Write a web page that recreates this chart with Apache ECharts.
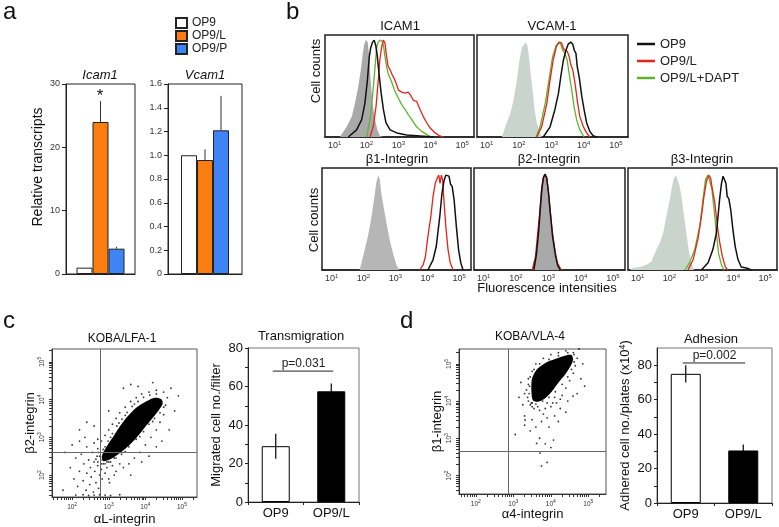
<!DOCTYPE html>
<html>
<head>
<meta charset="utf-8">
<title>OP9 adhesion molecules</title>
<script src="https://cdn.jsdelivr.net/npm/echarts@6/dist/echarts.min.js"></script>
<style>
  html, body { margin: 0; padding: 0; background: #fff; }
  #chart { width: 779px; height: 527px; }
</style>
</head>
<body>
<div id="chart"></div>
<script>
var FONT = 'Liberation Sans, Arial, sans-serif';

// a: relative transcripts
var aGroups = ['OP9', 'OP9/L', 'OP9/P'];
var aColors = ['#ffffff', '#fb7c0f', '#3f84f4'];
var icamMean = [1.0, 24.0, 4.0];
var icamErr = [0, 3.3, 0.3];
var vcamMean = [1.0, 0.96, 1.21];
var vcamErr = [0, 0.09, 0.29];

// b: histograms, x = log10(fluorescence), y = % of peak
var bGroups = ['OP9 ', 'OP9/L ', 'OP9/L+DAPT'];
var bColors = ['#111111', '#e5231b', '#5db52f'];
var decades = [1, 2, 3, 4, 5];

var icamIso = [[1.17,0],[1.38,10],[1.54,20],[1.64,33],[1.74,49],[1.82,65],[1.88,81],[1.93,91],[1.98,95],[2.04,93],[2.08,81],[2.13,56],[2.19,33],[2.27,17],[2.34,7],[2.42,1],[2.53,0]];
var icamOP9 = [[1.43,0],[1.69,7],[1.85,17],[1.95,33],[2.03,56],[2.09,79],[2.13,87],[2.19,93],[2.24,95],[2.29,90],[2.34,79],[2.39,63],[2.46,43],[2.53,27],[2.61,14],[2.74,7],[2.95,4],[3.26,2],[3.68,1],[4.1,0]];
var icamOP9L = [[2.11,0],[2.21,10],[2.3,30],[2.37,56],[2.42,76],[2.48,89],[2.53,95],[2.58,92],[2.63,79],[2.68,69],[2.74,66],[2.79,62],[2.86,58],[2.95,51],[3.0,46],[3.1,44],[3.21,43],[3.31,44],[3.38,41],[3.47,36],[3.57,35],[3.68,27],[3.78,20],[3.89,14],[3.99,9],[4.15,4],[4.3,1],[4.41,0]];
var icamDAPT = [[2.01,0],[2.11,17],[2.19,40],[2.27,69],[2.32,88],[2.37,93],[2.42,95],[2.49,94],[2.53,90],[2.58,79],[2.63,69],[2.68,62],[2.79,54],[2.89,45],[3.0,38],[3.1,32],[3.21,27],[3.31,22],[3.42,17],[3.57,10],[3.73,5.5],[3.89,2.3],[4.04,0]];

var vcamIso = [[1.47,0],[1.62,14],[1.73,23],[1.83,36],[1.93,55],[2.01,75],[2.09,88],[2.16,91],[2.22,93],[2.27,88],[2.32,75],[2.37,59],[2.43,43],[2.48,27],[2.55,14],[2.63,5.5],[2.7,0]];
var vcamOP9 = [[2.75,0],[2.96,10],[3.11,27],[3.22,43],[3.29,59],[3.37,75],[3.45,85],[3.52,91],[3.6,93],[3.66,91],[3.71,85],[3.76,82],[3.8,69],[3.86,59],[3.94,40],[4.01,27],[4.09,14],[4.19,5.5],[4.29,1.3],[4.4,0]];
var vcamOP9L = [[2.55,0],[2.7,10],[2.86,33],[2.96,56],[3.06,76],[3.16,89],[3.25,93],[3.32,92],[3.37,87],[3.42,85],[3.49,84],[3.55,79],[3.6,71],[3.66,66],[3.73,53],[3.8,36],[3.88,20],[3.99,10],[4.09,4],[4.19,0]];
var vcamDAPT = [[2.53,0],[2.65,10],[2.81,33],[2.94,59],[3.04,79],[3.14,89],[3.23,93],[3.29,91],[3.35,85],[3.42,82],[3.49,75],[3.55,62],[3.63,46],[3.7,30],[3.78,17],[3.88,7],[4.01,0]];

var b1Iso = [[1.88,0],[2.04,20],[2.14,33],[2.25,52],[2.33,69],[2.4,85],[2.46,93],[2.51,89],[2.56,75],[2.63,62],[2.72,46],[2.82,30],[2.93,16],[3.03,5],[3.13,0]];
var b1OP9 = [[4.02,0],[4.18,10],[4.28,23],[4.39,52],[4.46,75],[4.52,87],[4.58,93],[4.63,94],[4.68,92],[4.73,84],[4.78,82],[4.84,69],[4.91,43],[4.98,20],[5.05,7],[5.12,0]];
var b1OP9L = [[3.76,0],[3.87,5],[3.94,13],[4.02,33],[4.11,52],[4.18,72],[4.25,85],[4.31,90],[4.36,93],[4.4,85],[4.44,93],[4.48,89],[4.52,69],[4.58,43],[4.65,20],[4.72,7],[4.81,0]];

var b2Iso = [[2.5,0],[2.6,13],[2.67,36],[2.74,59],[2.79,79],[2.84,90],[2.89,93],[2.95,90],[3.0,75],[3.05,56],[3.12,33],[3.21,13],[3.28,3],[3.35,0]];
var b2OP9 = [[2.55,0],[2.63,15],[2.7,38],[2.75,60],[2.8,80],[2.85,91],[2.9,94],[2.95,90],[3.01,74],[3.06,56],[3.13,33],[3.22,14],[3.29,4],[3.37,0]];
var b2OP9L = [[2.5,0],[2.6,13],[2.67,36],[2.74,59],[2.79,79],[2.84,90],[2.89,93],[2.95,90],[3.0,77],[3.05,60],[3.12,38],[3.21,18],[3.28,7],[3.38,1],[3.43,0]];

var b3Iso = [[0.75,0],[0.86,2],[1.07,3],[1.27,5],[1.43,8],[1.59,20],[1.69,26],[1.8,36],[1.9,52],[2.01,69],[2.08,82],[2.14,90],[2.21,93],[2.27,92],[2.32,82],[2.39,69],[2.46,52],[2.53,36],[2.6,20],[2.68,7],[2.77,0]];
var b3OP9 = [[3.0,0],[3.21,7],[3.36,20],[3.47,36],[3.52,52],[3.57,69],[3.63,85],[3.68,92],[3.73,93],[3.77,85],[3.81,72],[3.86,70],[3.92,59],[3.99,39],[4.06,23],[4.15,10],[4.25,3],[4.41,2],[4.57,0]];
var b3OP9L = [[2.58,0],[2.74,10],[2.89,30],[3.0,52],[3.08,72],[3.16,87],[3.23,93],[3.29,90],[3.33,82],[3.37,75],[3.42,66],[3.47,52],[3.52,39],[3.58,26],[3.66,13],[3.75,3],[3.83,0]];
var b3DAPT = [[2.48,0],[2.63,7],[2.79,20],[2.95,43],[3.05,69],[3.13,89],[3.21,93],[3.27,92],[3.33,79],[3.4,59],[3.47,36],[3.54,16],[3.63,5],[3.71,0]];

// c, d: dot plots in log10 units; dense core outlined, sparse events listed
var facsDecades = [2, 3, 4, 5];
var cGate = [2.76, 2.6];
var cCore = [[2.81,2.5],[2.95,2.77],[3.13,3.03],[3.31,3.3],[3.53,3.57],[3.76,3.79],[4.04,3.96],[4.26,4.05],[4.44,4.01],[4.47,3.88],[4.35,3.7],[4.17,3.48],[3.94,3.21],[3.72,2.95],[3.49,2.73],[3.26,2.55],[3.04,2.42],[2.85,2.37]];
var cDots = [[1.95,2.2],[2.05,1.9],[2.1,2.45],[2.15,1.7],[2.2,2.1],[2.25,2.55],[2.3,1.85],[2.32,2.3],[2.38,1.6],[2.4,2.05],[2.45,2.4],[2.48,1.75],[2.5,2.2],[2.52,1.95],[2.55,2.6],[2.58,1.55],[2.6,2.35],[2.62,2.1],[2.65,1.8],[2.68,2.5],[2.7,2.25],[2.72,1.65],[2.75,2.0],[2.78,2.4],[2.8,2.15],[2.82,1.9],[2.85,2.3],[2.88,2.55],[2.9,2.05],[2.92,2.45],[2.95,2.2],[2.98,2.6],[3.0,2.35],[3.02,1.8],[3.05,2.5],[3.1,2.25],[3.12,2.65],[3.15,2.0],[3.2,2.45],[3.25,2.7],[3.3,2.3],[3.35,2.55],[1.8,2.6],[1.75,1.6],[2.0,2.8],[2.2,2.9],[2.4,2.75],[2.6,2.85],[2.35,3.0],[2.7,2.95],
  [2.1,1.47],[2.3,1.48],[2.45,1.46],[2.6,1.47],[2.75,1.48],[2.9,1.47],[3.05,1.46],[3.3,1.48],
  [2.7,2.7],[2.8,2.9],[2.9,3.05],[3.0,3.2],[3.1,3.35],[3.2,3.5],[3.3,3.65],[3.45,3.8],[3.6,3.95],[3.75,4.05],[3.9,4.15],[4.1,4.2],[4.3,4.25],[4.5,4.2],[4.6,4.05],[4.55,3.85],[4.5,3.6],[4.4,3.4],[4.3,3.2],[4.15,3.0],[4.0,2.8],[3.85,2.6],[3.7,2.45],[3.55,2.3],[3.4,2.2],[3.2,2.1],
  [3.4,4.3],[3.0,3.7],[2.6,3.3],[4.7,4.3],[4.8,3.7],[4.65,3.2],[4.3,2.75],[3.9,2.35],[4.9,4.1],[3.6,4.4],[2.4,3.4],[4.1,2.5],[3.6,2.0],[3.0,1.9],[4.45,2.9],[3.8,4.35],[4.2,4.45],[2.2,3.2],
  [2.85,2.68],[2.98,2.9],[3.1,3.1],[3.22,3.3],[3.36,3.48],[3.5,3.66],[3.64,3.82],[3.8,3.95],[3.95,4.06],[4.12,4.12],[4.3,4.15],[2.9,2.75],[3.05,3.0],[3.28,3.38],[3.45,3.58],[3.7,3.88],
  [2.95,2.35],[3.15,2.45],[3.35,2.6],[3.55,2.75],[3.75,2.95],[3.95,3.15],[4.1,3.35],[4.25,3.5],[4.4,3.65],[4.5,3.8],[3.05,2.35],[3.45,2.62],[3.85,3.02],[4.2,3.42],
  [2.7,2.35],[2.75,2.5],[2.65,2.42],[2.72,2.6],[2.8,2.3],[2.9,2.3]];

var dGate = [2.85, 2.66];
var dCore = [[3.49,4.12],[3.49,4.57],[3.62,4.84],[3.84,5.02],[4.11,5.13],[4.37,5.22],[4.55,5.24],[4.59,5.11],[4.52,4.93],[4.37,4.7],[4.19,4.48],[4.02,4.25],[3.84,4.07],[3.66,3.98],[3.53,4.01]];
var dDots = [[3.4,4.0],[3.35,4.3],[3.4,4.6],[3.5,4.8],[3.6,5.0],[3.8,5.15],[4.0,5.25],[4.2,5.3],[4.4,5.35],[4.6,5.3],[4.7,5.15],[4.65,4.95],[4.6,4.75],[4.5,4.55],[4.4,4.35],[4.3,4.15],[4.15,3.95],[4.0,3.85],[3.85,3.8],[3.7,3.75],[3.55,3.8],[3.45,3.9],
  [3.3,4.2],[3.25,3.9],[3.3,3.6],[3.5,3.5],[3.6,3.3],[3.75,3.45],[3.9,3.55],[4.1,3.6],[4.25,3.8],[4.45,4.0],[4.7,4.2],[4.8,4.6],[4.85,5.0],[4.75,5.4],[4.55,5.42],[3.95,3.3],[3.45,3.2],[3.3,3.35],[3.2,4.5],[3.15,4.1],[4.4,3.7],[3.7,3.0],[3.85,2.85],[4.0,2.75],[3.9,2.35],[3.05,3.1],[4.9,4.4],[3.6,4.1],[4.2,3.45],[3.5,3.95],[3.8,3.65],[4.05,3.95],[4.25,4.05],
  [3.31,3.49],[3.62,2.86],[4.07,2.95],[3.75,2.25],[3.71,2.6],[4.59,4.13],
  [3.42,4.2],[3.43,4.4],[3.45,4.65],[3.55,4.85],[3.7,5.0],[3.95,5.12],[4.2,5.22],[4.45,5.3],[4.62,5.25],[4.62,5.05],[4.55,4.85],[4.45,4.65],[4.3,4.45],[4.12,4.25],[3.95,4.1],[3.78,4.0],[3.6,3.92],[3.48,3.95],
  [3.38,4.1],[3.4,4.45],[3.5,3.85],[3.65,3.85],[3.9,3.95],[4.1,4.1]];

// c, d: bar charts
var barCats = ['OP9', 'OP9/L'];
var barFills = ['#ffffff', '#000000'];
var migMean = [29, 57.5];
var migErr = [6.5, 4];
var migP = ['p=0.031', 68];
var migTicks = [0, 20, 40, 60, 80];
var adhMean = [75, 30.5];
var adhErr = [5, 3.5];
var adhP = ['p=0.002', 81.3];
var adhTicks = [0, 20, 40, 60, 80];

function logTicks(lo, hi) {
    var out = [];
    for (var n = 1; n <= 5; n++) {
        for (var k = 1; k <= 9; k++) {
            var v = n + Math.log10(k);
            if (v >= lo && v <= hi) out.push(v);
        }
    }
    return out;
}

function powLabel(size, supSize) {
    return {
        formatter: function (v) { return '{b|10}{s|' + Math.round(v) + '}'; },
        rich: {
            b: { fontSize: size, color: '#333', lineHeight: size + 3, fontFamily: FONT },
            s: { fontSize: supSize, color: '#333', lineHeight: supSize, verticalAlign: 'top', fontFamily: FONT }
        }
    };
}

var grids = [
    { left: 66, top: 84, width: 69, height: 190, borderColor: '#222', borderWidth: 1 },   // 0 Icam1
    { left: 168, top: 84, width: 74, height: 190, borderColor: '#222', borderWidth: 1 },  // 1 Vcam1
    { left: 325, top: 35, width: 149, height: 102, borderColor: '#222', borderWidth: 1.5 }, // 2 ICAM1
    { left: 477, top: 35, width: 151, height: 102, borderColor: '#222', borderWidth: 1.5 }, // 3 VCAM-1
    { left: 322, top: 168, width: 149, height: 102, borderColor: '#222', borderWidth: 1.5 }, // 4 b1
    { left: 474, top: 168, width: 151, height: 102, borderColor: '#222', borderWidth: 1.5 }, // 5 b2
    { left: 628, top: 168, width: 149, height: 102, borderColor: '#222', borderWidth: 1.5 }, // 6 b3
    { left: 52, top: 349, width: 145, height: 148, borderColor: '#555', borderWidth: 1 },  // 7 c dots
    { left: 248, top: 348, width: 111, height: 154, borderColor: '#777', borderWidth: 1 }, // 8 c bars
    { left: 459, top: 349, width: 147, height: 145, borderColor: '#555', borderWidth: 1 }, // 9 d dots
    { left: 657, top: 348, width: 115, height: 155, borderColor: '#777', borderWidth: 1 }  // 10 d bars
];
grids.forEach(function (g) { g.show = true; g.containLabel = false; });

var xAxes = [], yAxes = [], series = [];

// ---- a ----
[[icamMean, icamErr, 'Icam1'], [vcamMean, vcamErr, 'Vcam1']].forEach(function (set, gi) {
    xAxes.push({
        gridIndex: gi, type: 'category', data: [set[2]],
        axisLine: { lineStyle: { color: '#222' } },
        axisTick: { show: false }, axisLabel: { show: false }
    });
    var y = {
        gridIndex: gi, type: 'value', min: 0, splitLine: { show: false },
        axisLine: { show: true, lineStyle: { color: '#222' } },
        axisTick: { show: true, length: 4, lineStyle: { color: '#222' } },
        axisLabel: { fontSize: 9, color: '#333', margin: 6 }
    };
    if (gi === 0) { y.max = 30; y.interval = 10; }
    else {
        y.max = 1.6; y.interval = 0.2;
        y.axisLabel.formatter = function (v) { return v === 0 ? '0' : v.toFixed(1); };
    }
    yAxes.push(y);
    aGroups.forEach(function (name, i) {
        series.push({
            type: 'bar', name: name, xAxisIndex: gi, yAxisIndex: gi,
            data: [set[0][i]], barWidth: 16, barGap: '0%',
            itemStyle: { color: aColors[i], borderColor: '#222', borderWidth: 1 }
        });
    });
    series.push({
        type: 'custom', xAxisIndex: gi, yAxisIndex: gi, z: 5,
        encode: { x: 0, y: [1, 2] },
        data: set[0].map(function (m, i) { return [0, m, m + set[1][i], i]; })
            .filter(function (d) { return d[2] > d[1]; }),
        renderItem: function (params, api) {
            var p0 = api.coord([0, api.value(1)]);
            var p1 = api.coord([0, api.value(2)]);
            var dx = (api.value(3) - 1) * 16;
            return {
                type: 'line',
                shape: { x1: p0[0] + dx, y1: p0[1], x2: p1[0] + dx, y2: p1[1] },
                style: { stroke: '#333', lineWidth: 1 }
            };
        }
    });
});

// ---- b ----
var histPanels = [
    { iso: icamIso, isoColor: '#a9a9a9', lines: [icamDAPT, icamOP9L, icamOP9] },
    { iso: vcamIso, isoColor: '#c9d4cd', lines: [vcamDAPT, vcamOP9L, vcamOP9] },
    { iso: b1Iso, isoColor: '#b6b6b6', lines: [null, b1OP9L, b1OP9] },
    { iso: b2Iso, isoColor: '#a9a9a9', lines: [null, b2OP9L, b2OP9] },
    { iso: b3Iso, isoColor: '#c9d4cd', lines: [b3DAPT, b3OP9L, b3OP9] }
];
histPanels.forEach(function (p, k) {
    var gi = 2 + k;
    var lab = powLabel(9, 6);
    lab.customValues = decades;
    lab.margin = 3;
    xAxes.push({
        gridIndex: gi, type: 'value', min: 0.7, max: 5.37, splitLine: { show: false },
        axisLine: { show: true, lineStyle: { color: '#222', width: 1.5 } },
        axisTick: { show: false }, axisLabel: lab
    });
    yAxes.push({ gridIndex: gi, type: 'value', min: 0, max: 100, show: false, splitLine: { show: false } });
    series.push({
        type: 'line', name: 'isotype', xAxisIndex: gi, yAxisIndex: gi, data: p.iso,
        symbol: 'none', lineStyle: { width: 0 }, itemStyle: { color: p.isoColor },
        areaStyle: { color: p.isoColor, opacity: 1 }, z: 1
    });
    // draw order: DAPT, OP9/L, OP9 on top
    [2, 1, 0].forEach(function (gIdx, j) {
        var d = p.lines[j];
        if (!d) return;
        series.push({
            type: 'line', name: bGroups[gIdx], xAxisIndex: gi, yAxisIndex: gi, data: d,
            symbol: 'none', itemStyle: { color: bColors[gIdx] },
            lineStyle: { color: bColors[gIdx], width: gIdx === 0 ? 1.5 : 1.3 }, z: 2 + j
        });
    });
});

// ---- c, d dot plots ----
function facsAxis(gi, lo, hi, name, gap, vertical) {
    var lab = powLabel(6.5, 5);
    lab.customValues = facsDecades;
    lab.margin = 5;
    lab.rotate = vertical ? 90 : 0;
    return {
        gridIndex: gi, type: 'value', min: lo, max: hi,
        name: name, nameLocation: 'middle', nameGap: gap,
        nameTextStyle: { fontSize: 13, color: '#111' },
        splitLine: { show: false },
        axisLine: { show: true, lineStyle: { color: '#333' } },
        axisTick: { show: true, customValues: logTicks(lo, hi), length: 3, lineStyle: { color: '#333' } },
        axisLabel: lab
    };
}
function dotSeries(gi, core, dots, gate) {
    series.push({
        type: 'custom', name: 'core', xAxisIndex: gi, yAxisIndex: gi, data: core, z: 3,
        renderItem: function (params, api) {
            if (params.dataIndex !== 0) return;
            var pts = core.map(function (c) { return api.coord(c); });
            return { type: 'polygon', shape: { points: pts, smooth: 0.3 }, style: { fill: '#000' } };
        }
    });
    series.push({
        type: 'scatter', name: 'events', xAxisIndex: gi, yAxisIndex: gi, data: dots,
        symbolSize: 1.8, itemStyle: { color: '#000' }, z: 4,
        markLine: {
            silent: true, symbol: 'none', label: { show: false },
            lineStyle: { color: '#666', type: 'solid', width: 1 },
            data: [{ xAxis: gate[0] }, { yAxis: gate[1] }]
        }
    });
}
xAxes[7] = facsAxis(7, 1.45, 5.41, 'αL-integrin', 16, false);
yAxes[7] = facsAxis(7, 1.42, 5.34, 'β2-integrin', 13, true);
dotSeries(7, cCore, cDots, cGate);

// ---- c, d bar charts ----
function barAxes(gi, max, ticks, name, gap, rich) {
    xAxes[gi] = {
        gridIndex: gi, type: 'category', data: barCats,
        axisLine: { lineStyle: { color: '#222' } },
        axisTick: { show: true, length: 3, lineStyle: { color: '#222' } },
        axisLabel: { fontSize: 13, color: '#111', margin: 5 }
    };
    var minor = [];
    for (var v = 0; v <= ticks[ticks.length - 1]; v += 10) minor.push(v);
    yAxes[gi] = {
        gridIndex: gi, type: 'value', min: 0, max: max,
        name: name, nameLocation: 'middle', nameGap: gap,
        nameTextStyle: { fontSize: 13, color: '#111', lineHeight: 16, rich: rich },
        splitLine: { show: false },
        axisLine: { show: true, lineStyle: { color: '#222' } },
        axisTick: { show: true, customValues: minor, length: 3, lineStyle: { color: '#222' } },
        axisLabel: { customValues: ticks, fontSize: 13, color: '#111', margin: 5 }
    };
}
function barSeries(gi, mean, err, width, pLab) {
    series.push({
        type: 'bar', name: 'bars' + gi, xAxisIndex: gi, yAxisIndex: gi, barWidth: width,
        data: mean.map(function (m, i) {
            return { value: m, itemStyle: { color: barFills[i], borderColor: '#000', borderWidth: 1 } };
        })
    });
    series.push({
        type: 'custom', xAxisIndex: gi, yAxisIndex: gi, z: 5, encode: { x: 0, y: [1, 2] },
        data: mean.map(function (m, i) { return [i, m - err[i], m + err[i]]; }),
        renderItem: function (params, api) {
            var p0 = api.coord([api.value(0), api.value(1)]);
            var p1 = api.coord([api.value(0), api.value(2)]);
            return {
                type: 'line', shape: { x1: p0[0], y1: p0[1], x2: p1[0], y2: p1[1] },
                style: { stroke: '#000', lineWidth: 1.2 }
            };
        }
    });
    series.push({
        type: 'custom', xAxisIndex: gi, yAxisIndex: gi, z: 5, encode: { x: [0, 1], y: 2 },
        data: [[0, 1, pLab[1]]],
        renderItem: function (params, api) {
            var a = api.coord([0, api.value(2)]);
            var b = api.coord([1, api.value(2)]);
            return {
                type: 'group', children: [
                    { type: 'line', shape: { x1: a[0] - 3, y1: a[1], x2: b[0] + 2, y2: b[1] },
                      style: { stroke: '#222', lineWidth: 1 } },
                    { type: 'text', x: (a[0] + b[0]) / 2, y: a[1] - 1,
                      style: { text: pLab[0], fontSize: 12, fontFamily: FONT, fill: '#222',
                               align: 'center', verticalAlign: 'bottom',
                               textAlign: 'center', textVerticalAlign: 'bottom' } }
                ]
            };
        }
    });
}
barAxes(8, 80, migTicks, 'Migrated cell no./filter', 22, null);
barSeries(8, migMean, migErr, 28, migP);

xAxes[9] = facsAxis(9, 1.55, 5.47, 'α4-integrin', 10, false);
yAxes[9] = facsAxis(9, 1.5, 5.4, 'β1-integrin', 15, true);
dotSeries(9, dCore, dDots, dGate);

barAxes(10, 90, adhTicks, 'Adhered cell no./plates (x10{s|4})', 20,
    { s: { fontSize: 9, lineHeight: 16, verticalAlign: 'top', color: '#111', fontFamily: FONT } });
barSeries(10, adhMean, adhErr, 30, adhP);

// ---- free text ----
function txt(x, y, text, size, extra) {
    var el = {
        type: 'text', x: x, y: y, silent: true,
        style: { text: text, fontSize: size, fontFamily: FONT, fill: '#111',
                 align: 'center', verticalAlign: 'middle',
                 textAlign: 'center', textVerticalAlign: 'middle' }
    };
    if (extra) {
        if (extra.rotation) el.rotation = extra.rotation;
        if (extra.italic) el.style.fontStyle = 'italic';
        if (extra.left) { el.style.align = 'left'; el.style.textAlign = 'left'; }
    }
    return el;
}
var texts = [
    txt(3, 12, 'a', 24, { left: true }),
    txt(286, 12, 'b', 24, { left: true }),
    txt(3, 321, 'c', 24, { left: true }),
    txt(400, 321, 'd', 24, { left: true }),
    txt(100, 75, 'Icam1', 13, { italic: true }),
    txt(205, 75, 'Vcam1', 13, { italic: true }),
    txt(100, 96, '*', 17),
    txt(38, 167, 'Relative transcripts', 14, { rotation: Math.PI / 2 }),
    txt(400, 26, 'ICAM1', 13),
    txt(552, 26, 'VCAM-1', 13),
    txt(397, 159, 'β1-Integrin', 13),
    txt(549, 159, 'β2-Integrin', 13),
    txt(702, 159, 'β3-Integrin', 13),
    txt(316, 71, 'Cell counts', 13, { rotation: Math.PI / 2 }),
    txt(314, 220, 'Cell counts', 13, { rotation: Math.PI / 2 }),
    txt(547, 288, 'Fluorescence intensities', 13),
    txt(122, 339, 'KOBA/LFA-1', 12),
    txt(530, 337, 'KOBA/VLA-4', 12),
    txt(301, 336, 'Transmigration', 13),
    txt(711, 339, 'Adhesion', 13)
];

var option = {
    animation: false,
    backgroundColor: '#fff',
    textStyle: { fontFamily: FONT },
    grid: grids,
    xAxis: xAxes,
    yAxis: yAxes,
    legend: [
        {
            data: aGroups, left: 175, top: 17, orient: 'vertical', padding: 0,
            itemWidth: 11, itemHeight: 10, itemGap: 1, icon: 'rect', selectedMode: false,
            textStyle: { fontSize: 12, lineHeight: 11, color: '#222' }
        },
        {
            data: bGroups, left: 637, top: 37, orient: 'vertical', padding: 0,
            itemWidth: 18, itemHeight: 2.5, itemGap: 3, icon: 'rect', selectedMode: false,
            formatter: function (name) { return name.trim(); },
            textStyle: { fontSize: 13, lineHeight: 14, color: '#222' }
        }
    ],
    graphic: texts,
    series: series
};

var chart = echarts.init(document.getElementById('chart'), null, { renderer: 'canvas' });
chart.setOption(option);
</script>
</body>
</html>
